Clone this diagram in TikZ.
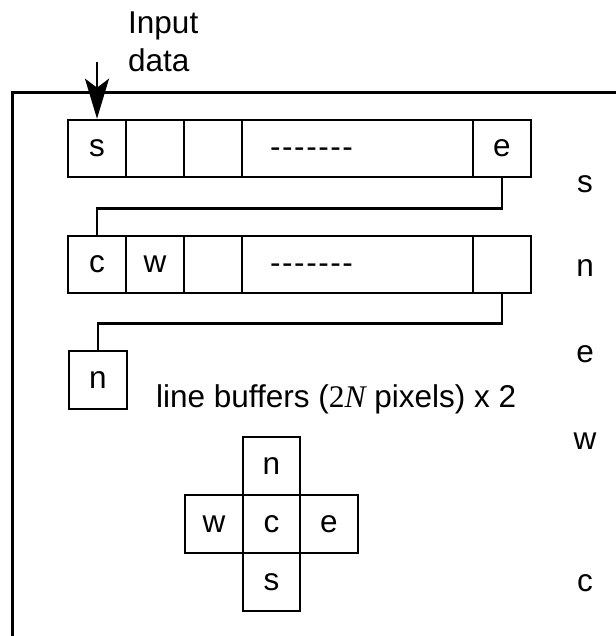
\documentclass[tikz,border=0pt]{standalone}
\usepackage{fontspec}
\setmainfont{Liberation Sans}
\newfontfamily\tms{Liberation Serif}
\newfontfamily\dashfont[LetterSpace=5]{Liberation Sans}
\usetikzlibrary{arrows.meta}
\begin{document}
\begin{tikzpicture}[x=1pt,y=-1pt,
  every node/.style={font=\fontsize{31.5}{38}\selectfont, inner sep=0pt},
  cell/.style={draw, line width=2.6pt, minimum height=57pt},
  sq/.style={cell, minimum width=58pt},
  wire/.style={line width=2.5pt},
  lbl/.style={anchor=center}]
\useasboundingbox (0,0) rectangle (615,636);
% outer frame
\draw[line width=3pt] (12,640) -- (12,93) -- (620,93);
% input label
\node[anchor=base west] (inp) at (128,34) {Input};
\node[anchor=base west] (dat) at (128,72) {data};
% row 1
\node[sq] (s1) at (97,148.5) {s};
\node[sq] (a1) at (155,148.5) {};
\node[sq] (b1) at (213,148.5) {};
\node[cell, minimum width=231pt] (m1) at (357.5,148.5) {};
\node[sq] (e1) at (502,148.5) {e};
\node[anchor=base] (d1) at (311.5,157.5) {\dashfont -------};
% row 2
\node[sq] (c2) at (97,264.5) {c};
\node[sq] (w2) at (155,264.5) {w};
\node[sq] (b2) at (213,264.5) {};
\node[cell, minimum width=231pt] (m2) at (357.5,264.5) {};
\node[sq] (e2) at (502,264.5) {};
\node[anchor=base] (d2) at (311.5,273) {\dashfont -------};
% single n box
\node[sq, minimum height=58pt] (nb) at (98,380) {n};
% input arrow
\coordinate (ain) at (97,62);
\draw[wire, -{Stealth[length=40pt,width=24pt,inset=9pt]}] (ain) -- (s1.north);
% connectors
\draw[wire] (e1.south) -- ++(0,30) -| (c2.north);
\draw[wire] (e2.south) -- ++(0,29) -| (nb.north);
% caption
\node[anchor=base west] (cap) at (156,407) {line buffers ({\tms 2\itshape N} pixels) x 2};
% cross
\node[sq, minimum width=57pt, minimum height=58pt] (cn) at (271.5,466) {n};
\node[sq, minimum width=57pt, minimum height=58pt] (cc) at (271.5,524) {c};
\node[sq, minimum width=58pt, minimum height=58pt] (cw) at (214,524) {w};
\node[sq, minimum width=58pt, minimum height=58pt] (ce) at (329,524) {e};
\node[sq, minimum width=57pt, minimum height=58pt] (cs) at (271.5,582) {s};
% right labels
\node[lbl] (rs) at (585,184) {s};
\node[lbl] (rn) at (585,268) {n};
\node[lbl] (re) at (585,354) {e};
\node[lbl] (rw) at (585,441) {w};
\node[lbl] (rc) at (585,583) {c};
\end{tikzpicture}
\end{document}
